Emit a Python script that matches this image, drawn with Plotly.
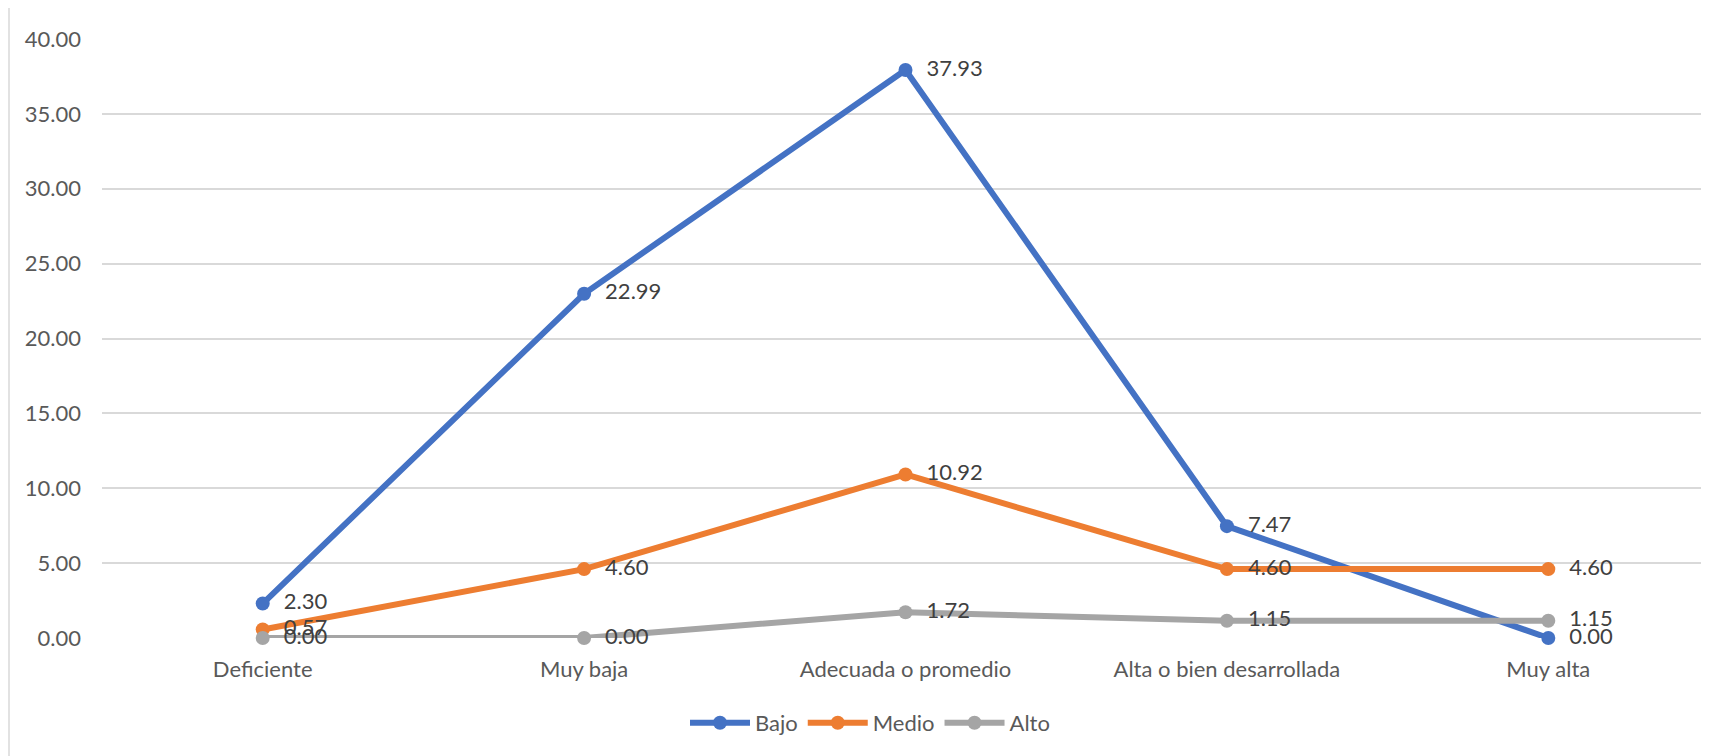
import plotly.graph_objects as go

categories = ["Deficiente", "Muy baja", "Adecuada o promedio", "Alta o bien desarrollada", "Muy alta"]
bajo = [2.30, 22.99, 37.93, 7.47, 0.00]
medio = [0.57, 4.60, 10.92, 4.60, 4.60]
alto = [0.00, 0.00, 1.72, 1.15, 1.15]
y_ticks = [0, 5, 10, 15, 20, 25, 30, 35, 40]

series = [("Bajo", bajo, "#4472C4"), ("Medio", medio, "#ED7D31"), ("Alto", alto, "#A5A5A5")]

FONT = "Lato"
FS = 22
OFF = 8  # default page body margin
W, H = 1709 - OFF, 756 - OFF
ML, MR, MT, MB = 102 - OFF, 0, 39 - OFF, 118

fig = go.Figure()
for name, vals, col in series:
    fig.add_trace(go.Scatter(
        x=categories, y=vals, name=name, mode="lines+markers+text",
        line=dict(color=col, width=6),
        marker=dict(color=col, size=14),
        text=["\u00a0\u00a0" + f"{v:.2f}" for v in vals],
        textposition="middle right",
        textfont=dict(family=FONT, size=FS, color="#404040"),
        cliponaxis=False,
    ))

pw = W - ML - MR
ph = H - MT - MB
fig.add_shape(type="line", xref="paper", yref="paper",
              x0=(1 - ML) / pw, x1=(1 - ML) / pw,
              y0=-(MB + 5) / ph, y1=(ph + MT + 5) / ph,
              line=dict(color="#D9D9D9", width=1.5))

fig.update_layout(
    width=W, height=H,
    margin=dict(l=ML, r=MR, t=MT, b=MB, autoexpand=False),
    paper_bgcolor="white", plot_bgcolor="white",
    font=dict(family=FONT, size=FS, color="#595959"),
    showlegend=True,
    legend=dict(orientation="h", x=(870 - OFF - ML) / pw, xanchor="center",
                y=-(723 - 638) / ph, yanchor="middle",
                font=dict(family=FONT, size=FS, color="#595959"),
                itemwidth=60, tracegroupgap=0),
    xaxis=dict(type="category", range=[-0.5, 4.5], showgrid=False, zeroline=False,
               showline=False, ticks="", ticklabelstandoff=16, automargin=False,
               tickfont=dict(family=FONT, size=FS, color="#595959")),
    yaxis=dict(range=[0, 40], tickvals=y_ticks, tickformat=".2f",
               showgrid=True, gridcolor="#D9D9D9", gridwidth=1.5,
               zeroline=False, showline=False, ticks="", ticklabelstandoff=20,
               automargin=False,
               tickfont=dict(family=FONT, size=FS, color="#595959")),
)

fig.write_html("out.html")
